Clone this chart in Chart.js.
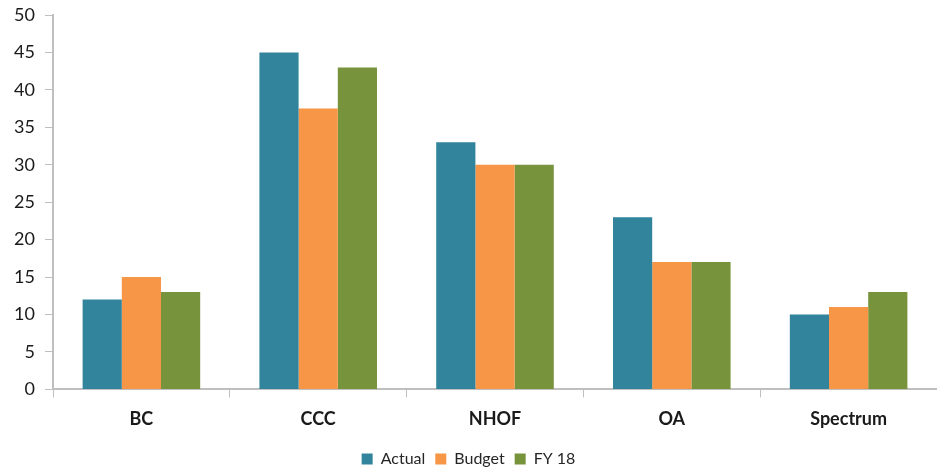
<!DOCTYPE html>
<html><head><meta charset="utf-8">
<script src="https://cdn.jsdelivr.net/npm/chart.js@4"></script>
<style>html,body{margin:0;padding:0;background:#fff}#wrap{width:937px;height:471px}</style>
</head><body><div id="wrap"><canvas id="c" width="937" height="471"></canvas></div>
<script>
const categories = ["BC", "CCC", "NHOF", "OA", "Spectrum"];
const actual = [12, 45, 33, 23, 10];
const budget = [15, 37.5, 30, 17, 11];
const fy18 = [13, 43, 30, 17, 13];
const seriesNames = ["Actual", "Budget", "FY 18"];
const yTicks = [0, 5, 10, 15, 20, 25, 30, 35, 40, 45, 50];

const FONT = "Lato, 'Open Sans', sans-serif";
new Chart(document.getElementById('c'), {
  type: 'bar',
  data: {
    labels: categories,
    datasets: [
      {label: seriesNames[0], data: actual, backgroundColor: '#31849B'},
      {label: seriesNames[1], data: budget, backgroundColor: '#F79646'},
      {label: seriesNames[2], data: fy18, backgroundColor: '#77933C'}
    ]
  },
  options: {
    responsive: false,
    animation: false,
    devicePixelRatio: 1,
    datasets: {bar: {categoryPercentage: 0.665, barPercentage: 1.0}},
    layout: {padding: {top: 15, right: 0, left: 0, bottom: -6}},
    plugins: {
      legend: {
        position: 'bottom',
        labels: {boxWidth: 11, boxHeight: 11, color: '#262626', font: {family: FONT, size: 16}, padding: 10}
      },
      tooltip: {enabled: false}
    },
    scales: {
      x: {
        grid: {display: true, offset: true, drawOnChartArea: false, tickLength: 8, color: '#BFBFBF'},
        border: {color: '#BFBFBF', width: 2},
        ticks: {color: '#1a1a1a', font: {family: FONT, size: 18, weight: 'bold'}, padding: 11}
      },
      y: {
        min: 0, max: 50,
        afterBuildTicks: s => { s.ticks = yTicks.map(v => ({value: v})); },
        afterFit: s => { s.width = 53; s.paddingTop = 0; s.paddingBottom = 0; },
        grid: {display: true, drawOnChartArea: false, tickLength: 8, color: '#BFBFBF'},
        border: {color: '#BFBFBF', width: 2},
        ticks: {color: '#1a1a1a', font: {family: FONT, size: 18}, padding: 10}
      }
    }
  }
});
</script></body></html>
